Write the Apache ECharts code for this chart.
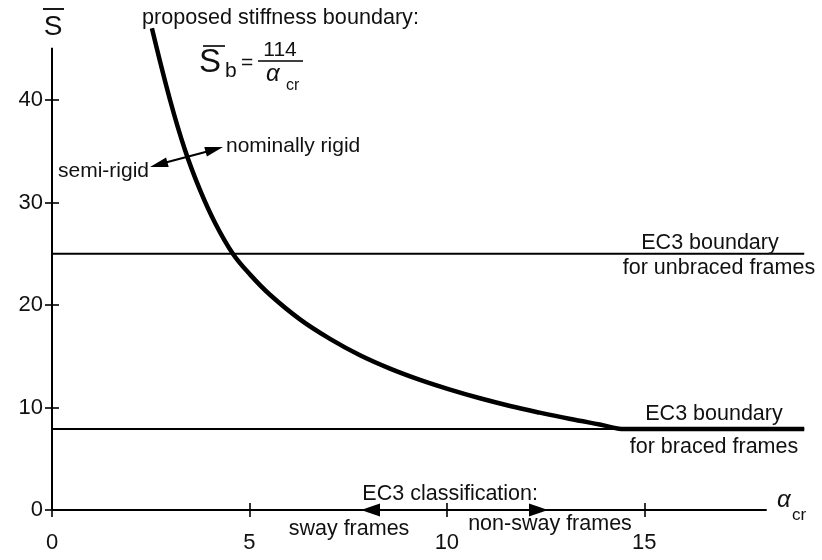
<!DOCTYPE html>
<html>
<head>
<meta charset="utf-8">
<script src="https://cdn.jsdelivr.net/npm/echarts@6/dist/echarts.min.js"></script>
<style>
html,body{margin:0;padding:0;background:#fff;}
#chart{width:822px;height:560px;}
</style>
</head>
<body>
<div id="chart"></div>
<script>
// ---- data ----
var curveAlpha = [2.53, 2.99, 3.37, 3.75, 4.13, 4.58, 5.01, 5.52, 6.28, 7.04, 7.80, 8.56, 9.32, 10.08, 10.84, 11.6, 12.35, 13.1, 13.87, 14.5, 19.05];
var curveS     = [47.0, 40.0, 35.1, 31.2, 28.0, 25.0, 23.0, 21.0, 18.6, 16.7, 15.1, 13.8, 12.7, 11.75, 10.9, 10.15, 9.5, 8.9, 8.35, 7.9, 7.9];
var unbracedAlpha = [0, 19.05];
var unbracedS = [25.0, 25.0];
var bracedAlpha = [0, 19.05];
var bracedS = [7.9, 7.9];
var xAxisExtent = [0, 18.1];
var yAxisExtent = [0, 45.1];
var xTickValues = [0, 5, 10, 15];
var yTickValues = [0, 10, 20, 30, 40];

function pairs(xs, ys){ return xs.map(function(x,i){ return [x, ys[i]]; }); }

var FONT = '"Liberation Sans", Arial, sans-serif';
var chart = echarts.init(document.getElementById('chart'), null, {renderer:'canvas'});

function xAxisDef(inside, showLabel){
  return {
    type:'value', min:0, max:19.5, interval:5, position:'bottom', offset:0,
    axisLine:{show:false}, splitLine:{show:false},
    axisTick:{show:true, inside:inside, length:7, customValues:xTickValues, lineStyle:{color:'#000', width:1.6}},
    axisLabel:{show:showLabel, customValues:xTickValues, fontSize:22, color:'#111', fontFamily:FONT, margin:22}
  };
}
function yAxisDef(inside, showLabel){
  return {
    type:'value', min:0, max:49.76, interval:10, position:'left', offset:0,
    axisLine:{show:false}, splitLine:{show:false},
    axisTick:{show:true, inside:inside, length:7, customValues:yTickValues, lineStyle:{color:'#000', width:1.6}},
    axisLabel:{show:showLabel, customValues:yTickValues, fontSize:22, color:'#111', fontFamily:FONT, margin:9}
  };
}

function text(x, y, str, opts){
  opts = opts || {};
  return {type:'text', x:x, y:y, z:10, style:{
    text:str, fill:'#111', font:(opts.style||'normal')+' '+(opts.size||21)+'px '+FONT,
    textAlign:opts.align||'left', textVerticalAlign:'middle'}};
}
function line(x1,y1,x2,y2,w){
  return {type:'line', z:10, shape:{x1:x1,y1:y1,x2:x2,y2:y2}, style:{stroke:'#000', lineWidth:w||1.6}};
}
function tri(pts){
  return {type:'polygon', z:10, shape:{points:pts}, style:{fill:'#000'}};
}

var option = {
  animation:false,
  backgroundColor:'#fff',
  grid:{left:52, right:0, top:0, bottom:50},
  xAxis:[xAxisDef(false,true), xAxisDef(true,false)],
  yAxis:[yAxisDef(false,true), yAxisDef(true,false)],
  series:[
    {type:'line', data:pairs(xAxisExtent,[0,0]), symbol:'none', lineStyle:{color:'#000', width:2}},
    {type:'line', data:pairs([0,0],yAxisExtent), symbol:'none', lineStyle:{color:'#000', width:2}},
    {type:'line', data:pairs(unbracedAlpha, unbracedS), symbol:'none', lineStyle:{color:'#000', width:2}},
    {type:'line', data:pairs(bracedAlpha, bracedS), symbol:'none', lineStyle:{color:'#000', width:2}},
    {type:'line', data:pairs(curveAlpha, curveS), symbol:'none', smooth:0.4, lineStyle:{color:'#000', width:4.5}}
  ],
  graphic:[
    // y axis title S-bar
    text(53, 27, 'S', {size:28, align:'center'}),
    line(43, 9, 64, 9, 1.8),
    // x axis title alpha_cr
    text(777, 500, 'α', {size:24, style:'italic'}),
    text(792, 515, 'cr', {size:17}),
    // proposed boundary
    text(142, 18, 'proposed stiffness boundary:', {size:21.6}),
    text(199, 63, 'S', {size:33}),
    line(203, 46, 225, 46, 1.6),
    text(225, 71, 'b', {size:21}),
    text(241, 63, '=', {size:21}),
    text(280, 50, '114', {size:21, align:'center'}),
    line(258, 61, 303, 61, 1.6),
    text(266, 74, 'α', {size:24, style:'italic'}),
    text(286, 86, 'cr', {size:16}),
    // semi-rigid / nominally rigid
    text(58, 171, 'semi-rigid', {size:21}),
    text(226, 146, 'nominally rigid', {size:21}),
    line(160, 164, 213, 150, 2),
    tri([[150,167],[168.7,167.0],[166.1,157.4]]),
    tri([[223,147],[206.9,156.6],[204.3,147.0]]),
    // EC3 boundary labels
    text(710, 243, 'EC3 boundary', {size:21.5, align:'center'}),
    text(719, 268, 'for unbraced frames', {size:21.5, align:'center'}),
    text(714, 414, 'EC3 boundary', {size:21.5, align:'center'}),
    text(714, 447, 'for braced frames', {size:21.5, align:'center'}),
    // classification
    text(538, 494, 'EC3 classification:', {size:21.5, align:'right'}),
    text(349, 529, 'sway frames', {size:21.5, align:'center'}),
    text(550, 524, 'non-sway frames', {size:21.5, align:'center'}),
    tri([[361,510],[380,503.5],[380,516.5]]),
    tri([[548,510],[529,503.5],[529,516.5]])
  ]
};
chart.setOption(option);
</script>
</body>
</html>
